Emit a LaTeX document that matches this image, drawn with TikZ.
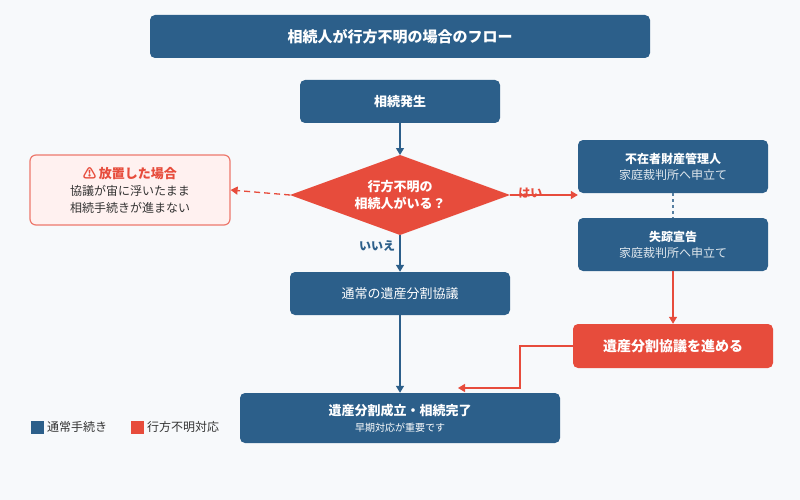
\documentclass[tikz,border=0pt]{standalone}
\usepackage{fontspec}
\setmainfont{Noto Sans CJK JP}
\usetikzlibrary{shapes.geometric,arrows.meta}
\definecolor{navy}{HTML}{2C5F8A}
\definecolor{red1}{HTML}{E74C3C}
\definecolor{bg}{HTML}{F7F9FB}
\definecolor{pink}{HTML}{FFF1F0}
\definecolor{txt}{HTML}{333333}
\begin{document}
\begin{tikzpicture}[x=1pt,y=-1pt,
 box/.style={draw=none,fill=navy,rounded corners=5pt,text=white,align=center,inner sep=0pt},
 arr/.style={-{Triangle[length=7pt,width=8pt]},line width=1.3pt}]
\fill[bg] (0,0) rectangle (800,500);
\useasboundingbox (0,0) rectangle (800,500);
\node[box,minimum width=500pt,minimum height=43pt,font=\bfseries\fontsize{15}{18}\selectfont] (title) at (400,36.5) {相続人が行方不明の場合のフロー};
\node[box,minimum width=200pt,minimum height=43pt,font=\bfseries\fontsize{13}{16}\selectfont] (start) at (400,101.5) {相続発生};
\coordinate (dN) at (400,155);
\coordinate (dS) at (400,235);
\coordinate (dW) at (290,195);
\coordinate (dE) at (510,195);
\fill[red1] (dN) -- (dE) -- (dS) -- (dW) -- cycle;
\node[text=white,align=center,font=\bfseries\fontsize{13}{17}\selectfont] (dec) at (400,195) {行方不明の\\相続人がいる？};
\node[draw=red1!75,line width=1.2pt,fill=pink,rounded corners=6pt,minimum width=200pt,minimum height=70pt,align=center,text=txt,font=\fontsize{12}{17}\selectfont] (warn) at (130,190) {{\color{red1}\bfseries\fontsize{13}{18}\selectfont ⚠ 放置した場合}\\協議が宙に浮いたまま\\相続手続きが進まない};
\node[box,minimum width=190pt,minimum height=53pt,font=\fontsize{12}{16}\selectfont] (mgr) at (673,166.5) {\textbf{不在者財産管理人}\\{\color{white!85!navy}家庭裁判所へ申立て}};
\node[box,minimum width=190pt,minimum height=53pt,font=\fontsize{12}{16}\selectfont] (sen) at (673,244.5) {\textbf{失踪宣告}\\{\color{white!85!navy}家庭裁判所へ申立て}};
\node[box,fill=red1,minimum width=200pt,minimum height=44pt,font=\bfseries\fontsize{14}{17}\selectfont] (go) at (673,346) {遺産分割協議を進める};
\node[box,minimum width=220pt,minimum height=43pt,font=\fontsize{13}{16}\selectfont] (norm) at (400,293.5) {通常の遺産分割協議};
\node[box,minimum width=320pt,minimum height=50pt,font=\fontsize{12}{16}\selectfont] (end) at (400,418) {{\bfseries\fontsize{13}{17}\selectfont 遺産分割成立・相続完了}\\{\fontsize{10}{14}\selectfont 早期対応が重要です}};
\draw[arr,navy] (start) -- (dN);
\draw[arr,red1,dash pattern=on 6pt off 4pt] (dW) -- (warn.east);
\draw[arr,red1] (dE) -- (mgr.west|-dE) node[pos=0.3,above=-7pt,font=\bfseries\fontsize{12}{14}\selectfont]{はい};
\draw[navy!80,line width=1.5pt,dash pattern=on 3pt off 3pt] (mgr) -- (sen);
\draw[arr,red1] (sen) -- (go);
\draw[arr,navy] (dS) -- (norm.north) node[pos=0.3,left=1pt,font=\bfseries\fontsize{12}{14}\selectfont]{いいえ};
\draw[arr,navy] (norm) -- (end);
\coordinate (t1) at (520,346);
\draw[arr,red1] (go.west) -- (t1) -- (520,388) -- (458,388);
\node[fill=navy,minimum size=13pt,inner sep=0pt] (l1) at (37,427) {};
\node[anchor=west,text=txt,font=\fontsize{12}{14}\selectfont] (l1t) at (l1.east) {通常手続き};
\node[fill=red1,minimum size=13pt,inner sep=0pt] (l2) at (137,427) {};
\node[anchor=west,text=txt,font=\fontsize{12}{14}\selectfont] (l2t) at (l2.east) {行方不明対応};
\end{tikzpicture}
\end{document}
